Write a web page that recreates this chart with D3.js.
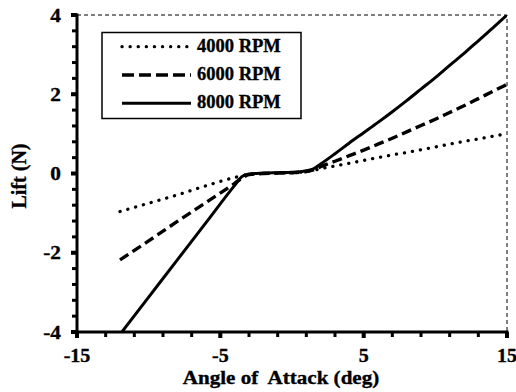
<!DOCTYPE html>
<html>
<head>
<meta charset="utf-8">
<script src="https://cdn.jsdelivr.net/npm/d3@7"></script>
<style>
  html, body { margin: 0; padding: 0; background: #fff; }
</style>
</head>
<body>
<svg id="chart" width="516" height="392"></svg>
<script>
// Angle of attack samples (deg)
const angles = [-12, -10, -8, -6, -4, -3.5, -3, -2, -1, 0, 1, 1.5, 2, 3, 4, 5, 6, 7, 8, 9, 10, 11, 12, 13, 14, 15];

// Lift (N) at each rotor speed
const lift4000 = [-0.96, -0.75, -0.54, -0.31, -0.10, -0.06, -0.02, 0.00, 0.01, 0.02, 0.05, 0.08, 0.12, 0.19, 0.26, 0.33, 0.40, 0.47, 0.53, 0.60, 0.67, 0.74, 0.81, 0.87, 0.94, 1.00];
const lift6000 = [-2.18, -1.70, -1.21, -0.73, -0.25, -0.12, -0.03, 0.00, 0.01, 0.02, 0.05, 0.09, 0.17, 0.31, 0.45, 0.59, 0.74, 0.89, 1.05, 1.21, 1.37, 1.54, 1.71, 1.89, 2.07, 2.25];
const lift8000 = [-4.06, -3.12, -2.18, -1.24, -0.30, -0.08, -0.01, 0.01, 0.02, 0.03, 0.07, 0.12, 0.24, 0.50, 0.77, 1.03, 1.29, 1.56, 1.84, 2.13, 2.42, 2.73, 3.03, 3.35, 3.67, 4.00];

const seriesNames = ["4000 RPM", "6000 RPM", "8000 RPM"];
const xTickLabels = [-15, -5, 5, 15];
const yTickLabels = [-4, -2, 0, 2, 4];

const FONT = "'Liberation Serif', 'Times New Roman', Times, serif";

const series = [
  { name: seriesNames[0], values: lift4000, dash: "0.1 8", legendDash: "0.1 8", width: 3.3, cap: "round" },
  { name: seriesNames[1], values: lift6000, dash: "10 5", legendDash: "12 5", width: 3.4, cap: "butt" },
  { name: seriesNames[2], values: lift8000, dash: null, legendDash: null, width: 3, cap: "butt" }
];

const svg = d3.select("#chart");
const W = 516, H = 392;
const margin = { left: 77, right: 9, top: 15, bottom: 60 };

const x = d3.scaleLinear().domain([-15, 15]).range([margin.left, W - margin.right]);
const y = d3.scaleLinear().domain([-4, 4]).range([H - margin.bottom, margin.top]);

// heavy serif lettering used for every label
const label = sel => sel
  .attr("font-family", FONT)
  .attr("font-weight", "bold")
  .attr("fill", "#000")
  .attr("stroke", "#000")
  .attr("stroke-width", 0.35);

// clip region for the curves
svg.append("defs").append("clipPath").attr("id", "plotClip")
  .append("rect")
  .attr("x", x(-15)).attr("y", y(4))
  .attr("width", x(15) - x(-15)).attr("height", y(-4) - y(4));

// thin dashed frame on top and right
svg.append("path")
  .attr("d", `M${x(-15)},${y(4)}H${x(15)}V${y(-4)}`)
  .attr("fill", "none")
  .attr("stroke", "#000")
  .attr("stroke-width", 1)
  .attr("stroke-dasharray", "4 3");

// curves
const line = d3.line()
  .x((d, i) => x(angles[i]))
  .y(d => y(d))
  .curve(d3.curveMonotoneX);

const curves = svg.append("g").attr("clip-path", "url(#plotClip)");
series.forEach(s => {
  curves.append("path")
    .attr("d", line(s.values))
    .attr("fill", "none")
    .attr("stroke", "#000")
    .attr("stroke-width", s.width)
    .attr("stroke-linecap", s.cap)
    .attr("stroke-dasharray", s.dash);
});

// x axis: minor ticks every 2 deg, labels at -15, -5, 5, 15
const xg = svg.append("g").attr("transform", `translate(0,${y(-4)})`);
xg.append("line")
  .attr("x1", x(-15) - 1.5).attr("x2", x(15) + 1.5)
  .attr("stroke", "#000").attr("stroke-width", 3);
xg.selectAll("rect.minor").data(d3.range(0, 16).map(i => -15 + i * 2))
  .enter().append("rect")
  .attr("x", d => x(d) - 1.5)
  .attr("y", 0)
  .attr("width", 3)
  .attr("height", 5);
xg.selectAll("rect.major").data(xTickLabels)
  .enter().append("rect")
  .attr("x", d => x(d) - 2)
  .attr("y", 0)
  .attr("width", 4)
  .attr("height", 6);
xg.selectAll("g.lbl").data(xTickLabels)
  .enter().append("g")
  .attr("transform", d => `translate(${x(d)},30) scale(1.08,1)`)
  .append("text")
  .call(label)
  .attr("text-anchor", "middle")
  .attr("font-size", 18.5)
  .text(d => d);

// y axis: minor ticks every 0.4 N, labels every 2 N
const yg = svg.append("g").attr("transform", `translate(${x(-15)},0)`);
yg.append("line")
  .attr("y1", y(4) - 1.5).attr("y2", y(-4) + 1.5)
  .attr("stroke", "#000").attr("stroke-width", 3);
yg.selectAll("rect.minor").data(d3.range(0, 21).map(i => -4 + i * 0.4))
  .enter().append("rect")
  .attr("x", -5)
  .attr("y", d => y(d) - 1.5)
  .attr("width", 5)
  .attr("height", 3);
yg.selectAll("rect.major").data(yTickLabels)
  .enter().append("rect")
  .attr("x", -6)
  .attr("y", d => y(d) - 2)
  .attr("width", 6)
  .attr("height", 4);
yg.selectAll("g.lbl").data(yTickLabels)
  .enter().append("g")
  .attr("transform", d => `translate(-16,${y(d) + 6.5}) scale(1.12,1)`)
  .append("text")
  .call(label)
  .attr("text-anchor", "end")
  .attr("font-size", 19)
  .text(d => d);

// axis titles
svg.append("g")
  .attr("transform", "translate(281,384) scale(1.08,1)")
  .append("text")
  .call(label)
  .attr("text-anchor", "middle")
  .attr("font-size", 19.5)
  .style("white-space", "pre")
  .text("Angle of  Attack (deg)");

svg.append("text")
  .call(label)
  .attr("transform", "translate(26,176) rotate(-90)")
  .attr("text-anchor", "middle")
  .attr("font-size", 20)
  .text("Lift (N)");

// legend
const lg = svg.append("g");
lg.append("rect")
  .attr("x", 102).attr("y", 32.5)
  .attr("width", 199).attr("height", 86)
  .attr("fill", "#fff")
  .attr("stroke", "#000")
  .attr("stroke-width", 1.5);
series.forEach((s, i) => {
  const cy = 46.7 + i * 28.3;
  lg.append("line")
    .attr("x1", 122).attr("x2", 191)
    .attr("y1", cy).attr("y2", cy)
    .attr("stroke", "#000")
    .attr("stroke-width", s.width)
    .attr("stroke-linecap", s.cap)
    .attr("stroke-dasharray", s.legendDash);
  lg.append("text")
    .call(label)
    .attr("x", 197).attr("y", cy + 5)
    .attr("font-size", 18.5)
    .text(s.name);
});
</script>
</body>
</html>
